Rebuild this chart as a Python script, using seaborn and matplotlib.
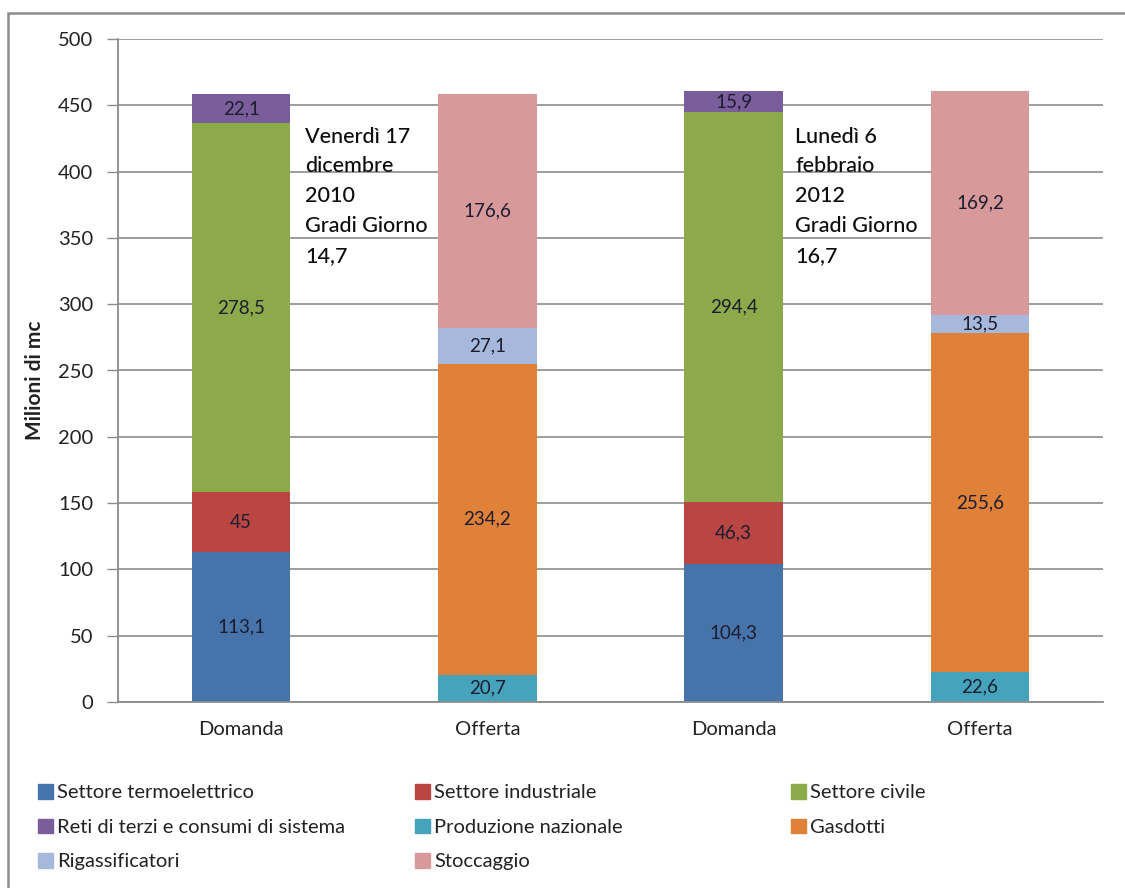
import matplotlib
matplotlib.use("Agg")
import matplotlib.pyplot as plt
import matplotlib.patches as mpatches
import seaborn as sns
import pandas as pd
import numpy as np

# ---- data ----
groups = ["Domanda 2010", "Offerta 2010", "Domanda 2012", "Offerta 2012"]
tick_labels = ["Domanda", "Offerta", "Domanda", "Offerta"]

series = ["Settore termoelettrico", "Settore industriale", "Settore civile",
          "Reti di terzi e consumi di sistema", "Produzione nazionale", "Gasdotti",
          "Rigassificatori", "Stoccaggio"]

termoelettrico = [113.1, 0, 104.3, 0]
industriale = [45.0, 0, 46.3, 0]
civile = [278.5, 0, 294.4, 0]
reti = [22.1, 0, 15.9, 0]
produzione = [0, 20.7, 0, 22.6]
gasdotti = [0, 234.2, 0, 255.6]
rigassificatori = [0, 27.1, 0, 13.5]
stoccaggio = [0, 176.6, 0, 169.2]

annotations = ["Venerdì 17\ndicembre\n2010\nGradi Giorno\n14,7",
               "Lunedì 6\nfebbraio\n2012\nGradi Giorno\n16,7"]

colors = ["#4674AA", "#B94643", "#8CAA4A", "#7A5E9C",
          "#45A3BC", "#DF8138", "#A6B9DC", "#D8999A"]

# stacking order (bottom to top); Domanda and Offerta stacks share positions
stack_names = ["Settore termoelettrico", "Produzione nazionale", "Settore industriale",
               "Gasdotti", "Settore civile", "Rigassificatori",
               "Reti di terzi e consumi di sistema", "Stoccaggio"]

data = {s: v for s, v in zip(series, [termoelettrico, industriale, civile, reti,
                                       produzione, gasdotti, rigassificatori, stoccaggio])}
color_of = dict(zip(series, colors))

sns.set_theme(style="white")
plt.rcParams["font.family"] = ["Lato", "DejaVu Sans"]

fig = plt.figure(figsize=(11.25, 8.88), dpi=100)
ax = fig.add_axes([118 / 1125, 1 - 702 / 888, (1103 - 118) / 1125, (702 - 39) / 888])

# cumulative bottoms
bottoms = np.zeros(len(groups))
tops = {}
bots = {}
for name in stack_names:
    v = np.array(data[name], dtype=float)
    bots[name] = bottoms.copy()
    bottoms = bottoms + v
    tops[name] = bottoms.copy()

# draw from top of stack to bottom (overlapping full bars)
for name in reversed(stack_names):
    df = pd.DataFrame({"group": groups, "top": tops[name], "val": data[name]})
    df = df[df["val"] > 0]
    sns.barplot(data=df, x="group", y="top", order=groups, color=color_of[name],
                width=0.4, saturation=1, linewidth=0, errorbar=None, ax=ax)

# value labels
for name in stack_names:
    for i, v in enumerate(data[name]):
        if v > 0:
            y = bots[name][i] + v / 2
            lab = f"{v:g}".replace(".", ",")
            ax.text(i, y, lab, ha="center", va="center", fontsize=13.5, color="#1c1c30")

# annotations
ann_x = [0.26, 2.25]
for x, t in zip(ann_x, annotations):
    ax.text(x, 434, t, ha="left", va="top", fontsize=15.5, color="#0d0d0d",
            linespacing=1.62, fontweight="medium")

ax.set_xlim(-0.5, 3.5)
ax.set_ylim(0, 500)
ax.set_yticks(np.arange(0, 501, 50))
ax.set_xticks(range(len(groups)))
ax.set_xticklabels(tick_labels, fontsize=14.5, color="#222222")
ax.tick_params(axis="y", labelsize=14.5, colors="#222222", length=8, width=1,
               color="#8c8c8c", direction="out", left=True, pad=10)
ax.tick_params(axis="x", length=0, pad=14)
ax.set_xlabel("")
ax.set_ylabel("Milioni di mc", fontsize=15, fontweight="bold", color="#222222")
ax.yaxis.set_label_coords(-0.074, 0.485)
ax.yaxis.grid(True, color="#8c8c8c", linewidth=1.2)
ax.set_axisbelow(True)
for s in ["top", "right"]:
    ax.spines[s].set_visible(False)
for s in ["left", "bottom"]:
    ax.spines[s].set_color("#8c8c8c")
    ax.spines[s].set_linewidth(1.3)

# legend: three columns placed like the original
leg_cols = [["Settore termoelettrico", "Reti di terzi e consumi di sistema", "Rigassificatori"],
            ["Settore industriale", "Produzione nazionale", "Stoccaggio"],
            ["Settore civile", "Gasdotti"]]
col_x = [38, 415, 791]
for cx, names in zip(col_x, leg_cols):
    handles = [mpatches.Patch(color=color_of[n], label=n) for n in names]
    lg = fig.legend(handles=handles, loc="upper left",
                    bbox_to_anchor=(cx / 1125, 1 - 784 / 888),
                    ncol=1, frameon=False, fontsize=14.5, handlelength=0.75,
                    handleheight=0.75, handletextpad=0.2, labelspacing=0.85,
                    borderaxespad=0, borderpad=0)
    for txt in lg.get_texts():
        txt.set_color("#222222")

# outer border
fig.patches.append(mpatches.Rectangle((7.5 / 1125, -0.02), 1.1, 1 - 13 / 888 + 0.02,
                                      transform=fig.transFigure, fill=False,
                                      edgecolor="#8c8c8c", linewidth=1.8))

fig.savefig("out.png", dpi=100)
